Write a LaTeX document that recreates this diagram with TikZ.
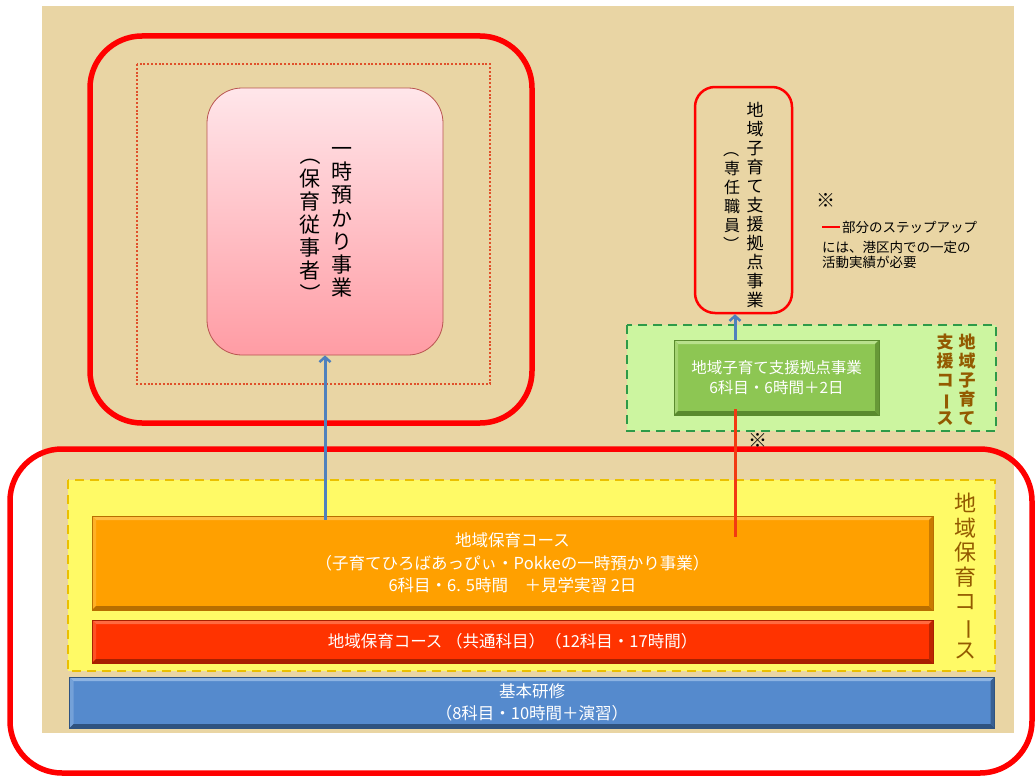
\documentclass[tikz,border=0pt]{standalone}
\usepackage{fontspec}
\setmainfont{Noto Sans CJK JP}
\usepackage{graphicx}
\usetikzlibrary{arrows.meta}
\definecolor{bgtan}{HTML}{E9D5A4}
\definecolor{bigred}{HTML}{FF0000}
\definecolor{dotred}{HTML}{E0502A}
\definecolor{pinkTop}{HTML}{FFE6EA}
\definecolor{pinkBot}{HTML}{FF9CA4}
\definecolor{pinkEdge}{HTML}{B85450}
\definecolor{arrowblue}{HTML}{4F81BD}
\definecolor{linered}{HTML}{F23A12}
\definecolor{greenFill}{HTML}{CCF5A0}
\definecolor{greenDash}{HTML}{2E9A48}
\definecolor{greenM}{HTML}{8DC653}
\definecolor{greenL}{HTML}{B8E08C}
\definecolor{greenD}{HTML}{5A8A2E}
\definecolor{yellowFill}{HTML}{FFFA66}
\definecolor{yellowDash}{HTML}{EBC000}
\definecolor{orangeM}{HTML}{FFA000}
\definecolor{orangeL}{HTML}{FFBE45}
\definecolor{orangeD}{HTML}{B86E00}
\definecolor{redM}{HTML}{FF3300}
\definecolor{redL}{HTML}{FF6A40}
\definecolor{redD}{HTML}{A82000}
\definecolor{blueM}{HTML}{558ACD}
\definecolor{blueL}{HTML}{8DB3E2}
\definecolor{blueD}{HTML}{2F5380}
\definecolor{labelbrown}{HTML}{935A00}
\newcommand\vchoon{\rotatebox[origin=c]{-90}{ー}}
\newcommand\vlparen{\rotatebox[origin=c]{-90}{（}}
\newcommand\vrparen{\rotatebox[origin=c]{-90}{）}}
\tikzset{
  bigframe/.style={draw=bigred, line width=5.5pt, rounded corners=52pt},
  vcol/.style={align=center, inner sep=0pt},
  bevelbox/.style n args={3}{fill=#1, draw=#3, line width=0.6pt, inner sep=0pt,
    text=white, align=center,
    path picture={
      \fill[#2] (path picture bounding box.north west) -- (path picture bounding box.north east)
        -- ([shift={(-4pt,-4pt)}]path picture bounding box.north east)
        -- ([shift={(4pt,-4pt)}]path picture bounding box.north west) -- cycle;
      \fill[#2!55!#1] (path picture bounding box.north west) -- (path picture bounding box.south west)
        -- ([shift={(4pt,4pt)}]path picture bounding box.south west)
        -- ([shift={(4pt,-4pt)}]path picture bounding box.north west) -- cycle;
      \fill[#3] (path picture bounding box.south west) -- (path picture bounding box.south east)
        -- ([shift={(-4pt,4pt)}]path picture bounding box.south east)
        -- ([shift={(4pt,4pt)}]path picture bounding box.south west) -- cycle;
      \fill[#3!75!#1] (path picture bounding box.south east) -- (path picture bounding box.north east)
        -- ([shift={(-4pt,-4pt)}]path picture bounding box.north east)
        -- ([shift={(-4pt,4pt)}]path picture bounding box.south east) -- cycle;
    }},
  bluearrow/.style={draw=arrowblue, line width=3pt, -{Straight Barb[length=5pt,width=11pt,line width=2.5pt]}},
  redline/.style={draw=linered, line width=3pt},
  notetext/.style={inner sep=0pt, font=\fontsize{13.5}{15.5}\selectfont, align=left},
  markstyle/.style={inner sep=0pt, font=\fontsize{19}{19}\selectfont},
}
\begin{document}
\begin{tikzpicture}[x=1pt,y=-1pt]
\useasboundingbox (0,0) rectangle (1036,776);
% background
\fill[bgtan] (42,6) rectangle (1014,733);

% top-left frame and dotted rectangle
\draw[bigframe] (90,36) rectangle (532,423);
\draw[dotred, line width=2pt, dash pattern=on 2pt off 1.8pt] (137,64) rectangle (490,384);

% pink box
\node[draw=pinkEdge, line width=0.8pt, rounded corners=35pt, top color=pinkTop, bottom color=pinkBot,
      minimum width=236pt, minimum height=267pt, inner sep=0pt] (ichiji) at (325,221.5) {};
\node[vcol, font=\fontsize{21}{23.2}\selectfont] (ichijiA) at (342,222.5) {一\\時\\預\\か\\り\\事\\業};
\node[vcol, font=\fontsize{21}{23.2}\selectfont] (ichijiB) at (310,224.5) {\vlparen\\保\\育\\従\\事\\者\\\vrparen};

% kyoten box (top right)
\node[draw=bigred, line width=2.5pt, rounded corners=20pt, minimum width=97pt, minimum height=226pt, inner sep=0pt]
  (kyoten) at (743.5,200) {};
\node[vcol, font=\fontsize{17}{19}\selectfont] (kyotenA) at (755,205) {地\\域\\子\\育\\て\\支\\援\\拠\\点\\事\\業};
\node[vcol, font=\fontsize{16}{19}\selectfont] (kyotenB) at (732,196.5) {\vlparen\\専\\任\\職\\員\\\vrparen};

% note
\node[markstyle] (mark) at (826,200) {※};
\draw[bigred, line width=2.5pt] (822,227) -- (840,227);
\node[notetext, anchor=west] (note1) at (842,227) {部分のステップアップ};
\node[notetext, anchor=west] (note2) at (822,255) {には、港区内での一定の\\活動実績が必要};

% green course
\draw[greenDash, fill=greenFill, line width=2.5pt, dash pattern=on 9pt off 6pt] (627,325) rectangle (996,431);
\node[bevelbox={greenM}{greenL}{greenD}, minimum width=205pt, minimum height=75pt,
      font=\fontsize{15.5}{19.5}\selectfont] (green) at (776.5,377.5) {地域子育て支援拠点事業\\6科目・6時間＋2日};
\node[vcol, text=labelbrown, font=\bfseries\fontsize{17}{19}\selectfont] (glabelA) at (967,380) {地\\域\\子\\育\\て};
\node[vcol, text=labelbrown, font=\bfseries\fontsize{17}{19}\selectfont] (glabelB) at (945,380) {支\\援\\コ\\\vchoon\\ス};

% bottom frame
\draw[bigframe] (10,449) rectangle (1032,773);

% yellow course
\draw[yellowDash, fill=yellowFill, line width=2.5pt, dash pattern=on 9pt off 6pt] (68,480) rectangle (995,671);
\node[bevelbox={orangeM}{orangeL}{orangeD}, minimum width=841pt, minimum height=94pt,
      font=\fontsize{16.5}{22.5}\selectfont] (orange) at (512.5,563)
  {地域保育コース\\（子育てひろばあっぴぃ・Pokkeの一時預かり事業）\\6科目・6. 5時間　＋見学実習 2日};
\node[bevelbox={redM}{redL}{redD}, minimum width=841pt, minimum height=43pt,
      font=\fontsize{16.5}{20}\selectfont] (common) at (512.5,641.5)
  {地域保育コース （共通科目）（12科目・17時間）};
\node[vcol, text=labelbrown, font=\fontsize{22}{24.5}\selectfont] (ylabel) at (965,576.5)
  {地\\域\\保\\育\\コ\\\vchoon\\ス};

% basic training
\node[bevelbox={blueM}{blueL}{blueD}, minimum width=925pt, minimum height=51pt,
      font=\fontsize{16.5}{22}\selectfont] (basic) at (532,702.5)
  {基本研修\\（8科目・10時間＋演習）};

% connectors
\coordinate (ax) at (735,0);
\draw[bluearrow] ([yshift=-4pt]orange.north -| ichiji.south) -- (ichiji.south);
\draw[bluearrow] (green.north -| ax) -- (kyoten.south -| ax);
\draw[redline] ([yshift=6pt]green.south -| ax) -- ([yshift=-21pt]orange.north -| ax);
\node[markstyle] (mark2) at (758,440) {※};
\end{tikzpicture}
\end{document}
